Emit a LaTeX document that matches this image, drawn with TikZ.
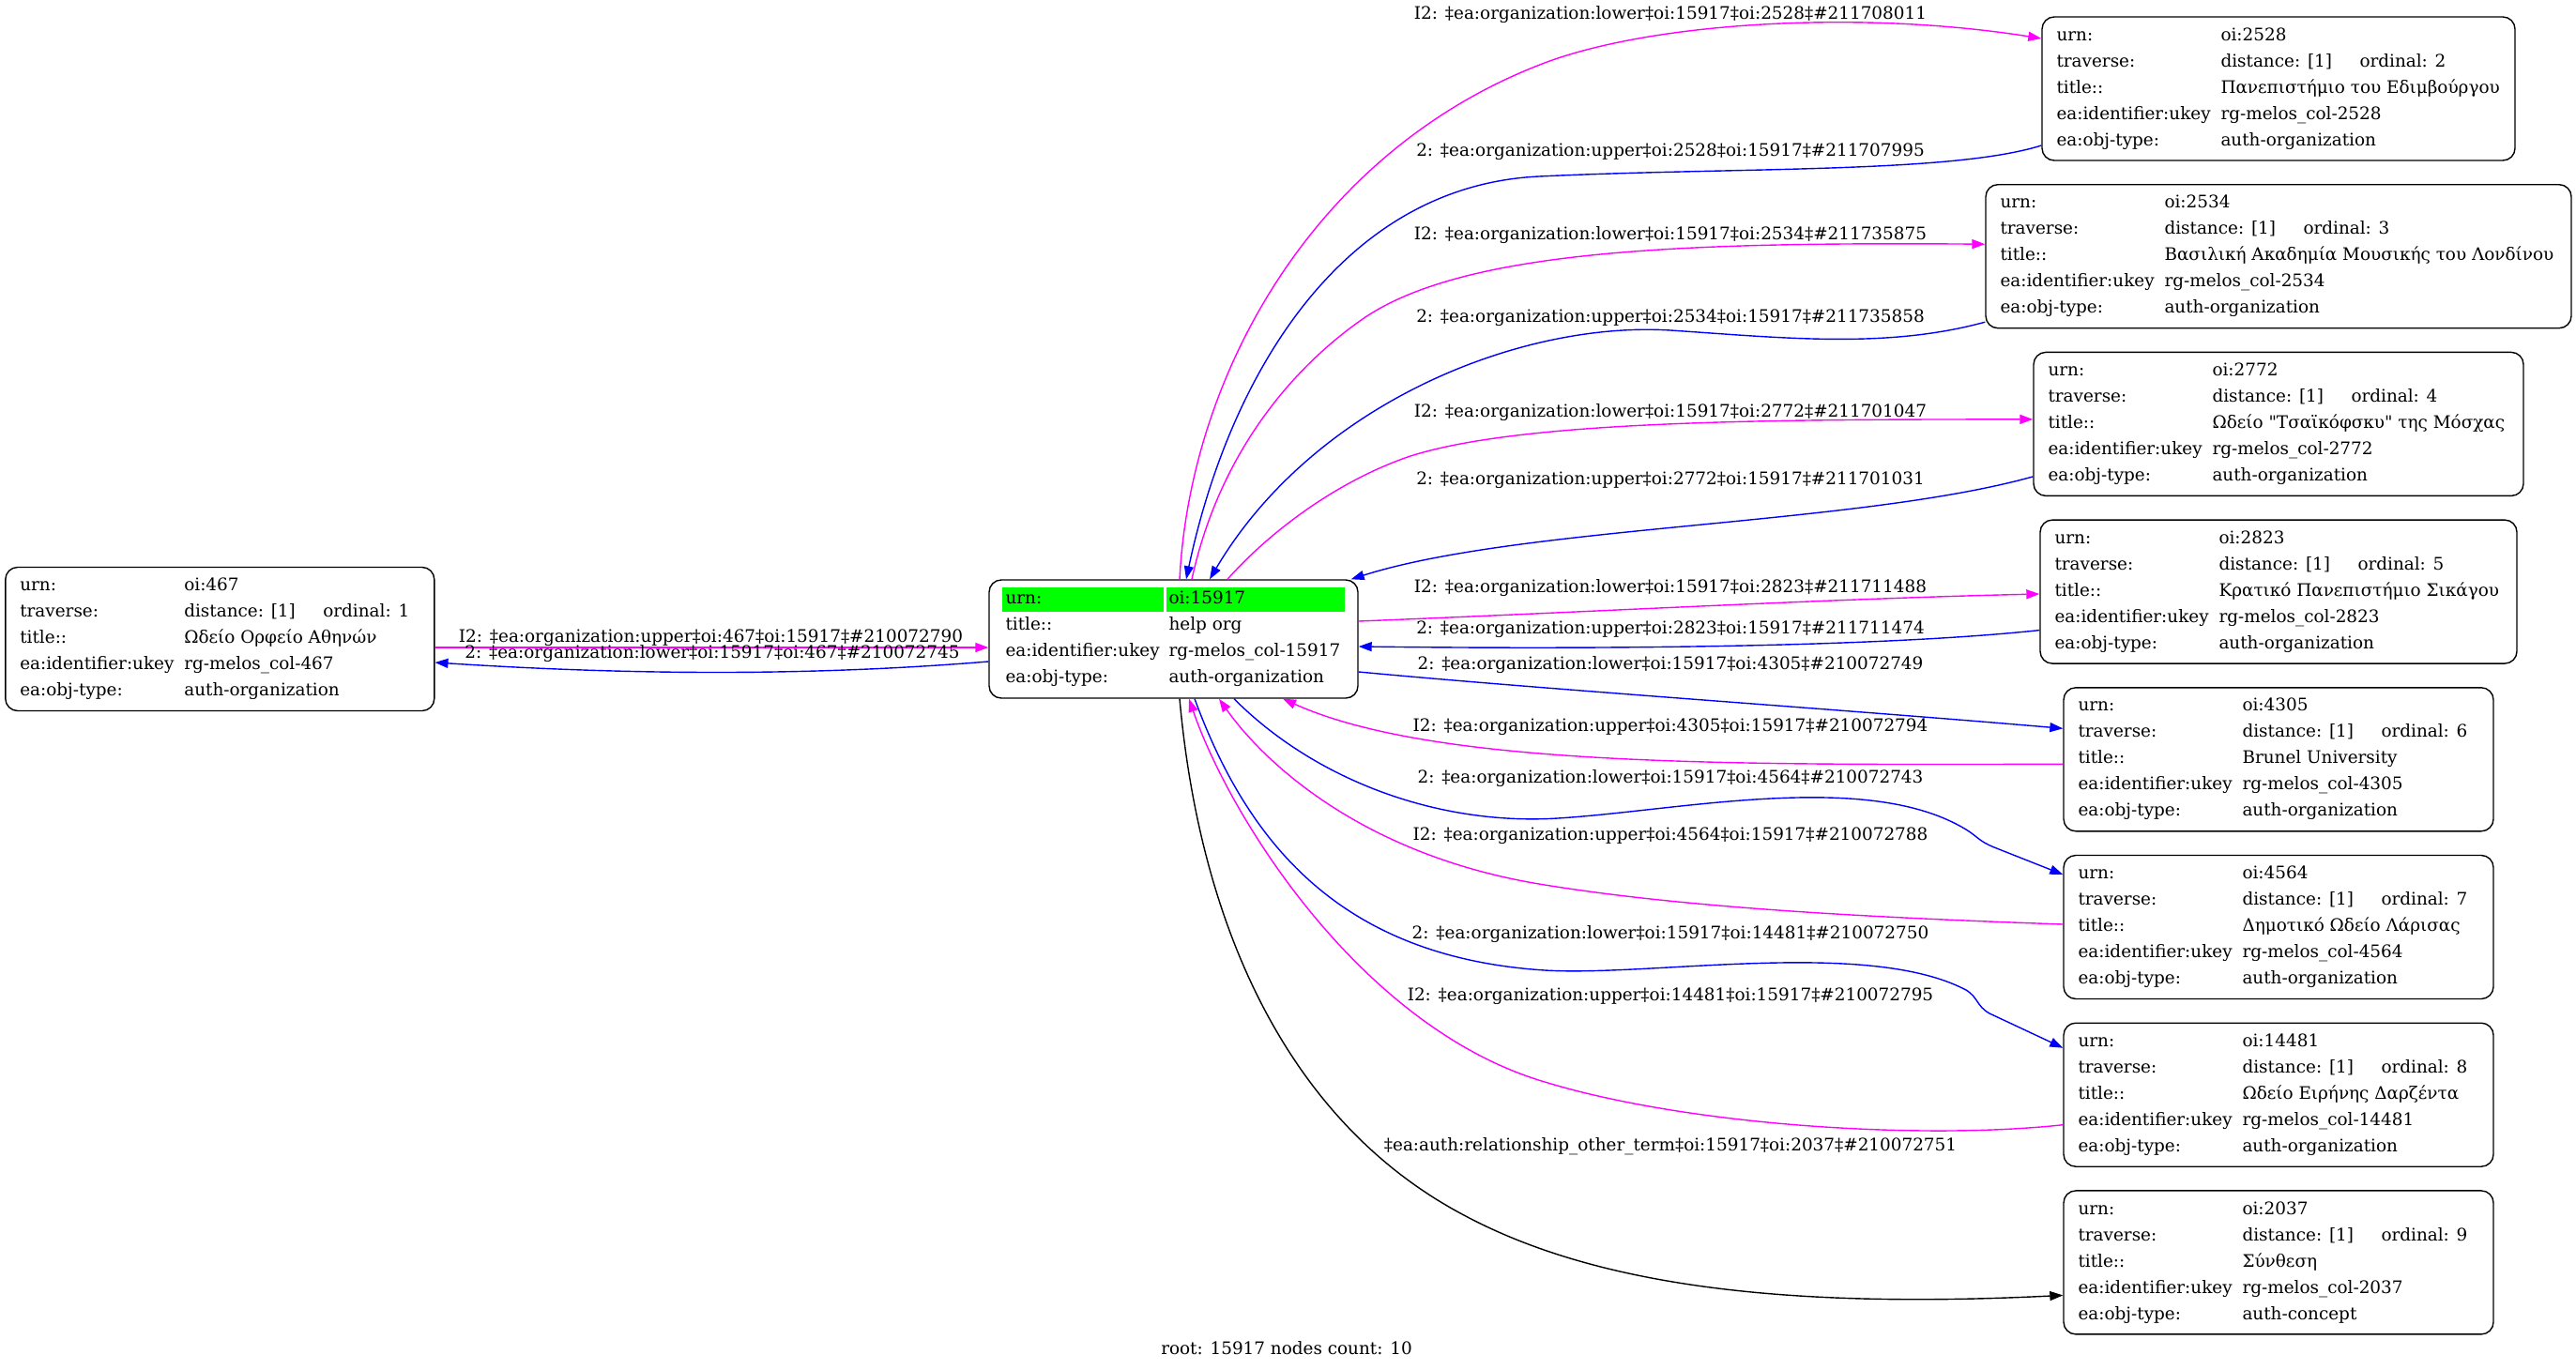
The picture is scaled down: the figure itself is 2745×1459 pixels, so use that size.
\documentclass[tikz,border=0pt]{standalone}
\usepackage{fontspec}
\setmainfont{DejaVu Serif}[Ligatures=TeXOff]
\usetikzlibrary{arrows.meta}
\definecolor{pk}{RGB}{255,0,255}
\definecolor{bl}{RGB}{0,0,255}
\definecolor{gr}{RGB}{0,255,0}
\newcommand\objtable[5]{%
\begin{tabular}{@{}p{175pt}@{}l@{}}
urn: & #1\\
traverse: & \makebox[148pt][l]{distance: [1]}ordinal: #2\\
title:: & #3\\
ea:identifier:ukey & #4\\
ea:obj-type: & #5
\end{tabular}}
\tikzset{
  obj/.style={draw=black, line width=1.4pt, rounded corners=13pt, minimum height=153pt, inner sep=0pt},
  rows/.style={anchor=north west, inner sep=0pt, font=\fontsize{18.4}{28}\selectfont},
  elabel/.style={anchor=base, inner sep=0pt, font=\fontsize{18.4}{23}\selectfont},
  edge/.style={line width=1.4pt, -{Triangle[length=14pt,width=10pt]}},
  pkedge/.style={edge, draw=pk},
  bledge/.style={edge, draw=bl},
  kedge/.style={edge, draw=black},
}
\begin{document}
\begin{tikzpicture}[x=1pt,y=-1pt]
\useasboundingbox (0,0) rectangle (2745,1459);
% boxes
\node[obj, minimum width=457pt] (L) at (234.3,681) {};
\node[rows] (TL) at ([xshift=16pt,yshift=-6pt]L.north west) {\objtable{oi:467}{1}{Ωδείο Ορφείο Αθηνών}{rg-melos\_col-467}{auth-organization}};

\node[obj, minimum width=393pt, minimum height=126pt] (C) at (1250.5,681) {};
\fill[gr] (1068,626) rectangle (1240,652);
\fill[gr] (1243,626) rectangle (1433,652);
\node[rows] (TC) at ([xshift=18pt,yshift=-6.4pt]C.north west) {%
\begin{tabular}{@{}p{174pt}@{}l@{}}
urn: & oi:15917\\
title:: & help org\\
ea:identifier:ukey & rg-melos\_col-15917\\
ea:obj-type: & auth-organization
\end{tabular}};

\node[obj, minimum width=504pt] (B2528) at (2428,94.5) {};
\node[rows] (T2528) at ([xshift=16pt,yshift=-6pt]B2528.north west) {\objtable{oi:2528}{2}{Πανεπιστήμιο του Εδιμβούργου}{rg-melos\_col-2528}{auth-organization}};
\node[obj, minimum width=624pt] (B2534) at (2428,273.2) {};
\node[rows] (T2534) at ([xshift=16pt,yshift=-6pt]B2534.north west) {\objtable{oi:2534}{3}{Βασιλική Ακαδημία Μουσικής του Λονδίνου}{rg-melos\_col-2534}{auth-organization}};
\node[obj, minimum width=522pt] (B2772) at (2428,451.9) {};
\node[rows] (T2772) at ([xshift=16pt,yshift=-6pt]B2772.north west) {\objtable{oi:2772}{4}{Ωδείο "Τσαϊκόφσκυ" της Μόσχας}{rg-melos\_col-2772}{auth-organization}};
\node[obj, minimum width=508pt] (B2823) at (2428,630.6) {};
\node[rows] (T2823) at ([xshift=16pt,yshift=-6pt]B2823.north west) {\objtable{oi:2823}{5}{Κρατικό Πανεπιστήμιο Σικάγου}{rg-melos\_col-2823}{auth-organization}};
\node[obj, minimum width=458pt] (B4305) at (2428,809.3) {};
\node[rows] (T4305) at ([xshift=16pt,yshift=-6pt]B4305.north west) {\objtable{oi:4305}{6}{Brunel University}{rg-melos\_col-4305}{auth-organization}};
\node[obj, minimum width=458pt] (B4564) at (2428,988) {};
\node[rows] (T4564) at ([xshift=16pt,yshift=-6pt]B4564.north west) {\objtable{oi:4564}{7}{Δημοτικό Ωδείο Λάρισας}{rg-melos\_col-4564}{auth-organization}};
\node[obj, minimum width=458pt] (B14481) at (2428,1166.7) {};
\node[rows] (T14481) at ([xshift=16pt,yshift=-6pt]B14481.north west) {\objtable{oi:14481}{8}{Ωδείο Ειρήνης Δαρζέντα}{rg-melos\_col-14481}{auth-organization}};
\node[obj, minimum width=458pt] (B2037) at (2428,1345.4) {};
\node[rows] (T2037) at ([xshift=16pt,yshift=-6pt]B2037.north west) {\objtable{oi:2037}{9}{Σύνθεση}{rg-melos\_col-2037}{auth-concept}};

% edges left
\draw[pkedge] ([yshift=-9pt]L.east) -- ([yshift=-9pt]C.west);
\draw[bledge] ([yshift=-24pt]C.west) .. controls (870,720) and (682,720) .. ([yshift=-25pt]L.east);
% 2528
\draw[pkedge] ([xshift=6.5pt]C.north) .. controls (1268,400) and (1400,160) .. (1646,67) .. controls (1760,24) and (1980,10) .. ([yshift=53.5pt]B2528.west);
\draw[bledge] ([yshift=-60.5pt]B2528.west) .. controls (2080,185) and (1850,178) .. (1640,188) .. controls (1430,198) and (1310,400) .. ([xshift=13.5pt]C.north);
% 2534
\draw[pkedge] ([xshift=19.5pt]C.north) .. controls (1300,480) and (1380,390) .. (1452,340) .. controls (1560,265) and (1800,258) .. ([yshift=13pt]B2534.west);
\draw[bledge] ([yshift=-70pt]B2534.west) .. controls (2010,372) and (1900,360) .. (1780,352) .. controls (1620,342) and (1400,430) .. ([xshift=38.5pt]C.north);
% 2772
\draw[pkedge] ([xshift=57.5pt]C.north) .. controls (1350,570) and (1420,515) .. (1500,487) .. controls (1620,447) and (1900,447) .. ([yshift=5pt]B2772.west);
\draw[bledge] ([yshift=-56pt]B2772.west) .. controls (1980,560) and (1620,560) .. ([xshift=-8pt]C.north east);
% 2823
\draw[pkedge] ([yshift=19pt]C.east) .. controls (1700,652) and (1950,638) .. ([yshift=-2.4pt]B2823.west);
\draw[bledge] ([yshift=-41pt]B2823.west) .. controls (2000,690) and (1700,692) .. ([yshift=-8pt]C.east);
% 4305
\draw[bledge] ([yshift=-35pt]C.east) .. controls (1650,735) and (1950,755) .. ([yshift=33pt]B4305.west);
\draw[pkedge] ([yshift=-5pt]B4305.west) .. controls (1850,815) and (1530,818) .. ([xshift=116.5pt]C.south);
% 4564
\draw[bledge] ([xshift=64.5pt]C.south) .. controls (1400,830) and (1530,880) .. (1660,872) .. controls (1790,864) and (1990,820) .. (2095,884) .. controls (2108,892) and (2108,896) .. (2125,903) -- ([yshift=56pt]B4564.west);
\draw[pkedge] ([yshift=3pt]B4564.west) .. controls (2000,978) and (1800,968) .. (1646,943) .. controls (1450,912) and (1345,810) .. ([xshift=48.5pt]C.south);
% 14481
\draw[bledge] ([xshift=22.5pt]C.south) .. controls (1330,900) and (1430,1020) .. (1646,1034) .. controls (1760,1041) and (1990,1000) .. (2095,1055) .. controls (2108,1063) and (2106,1072) .. (2120,1080) -- ([yshift=50pt]B14481.west);
\draw[pkedge] ([yshift=-32pt]B14481.west) .. controls (2050,1215) and (1800,1200) .. (1646,1153) .. controls (1450,1095) and (1310,870) .. ([xshift=16.5pt]C.south);
% 2037
\draw[kedge] ([xshift=6.5pt]C.south) .. controls (1280,1000) and (1380,1200) .. (1560,1295) .. controls (1700,1370) and (1900,1395) .. ([yshift=-35pt]B2037.west);

% edge labels
\node[elabel] (l1) at (757.5,684) {I2: ‡ea:organization:upper‡oi:467‡oi:15917‡\#210072790};
\node[elabel] (l2) at (759,701) {2: ‡ea:organization:lower‡oi:15917‡oi:467‡\#210072745};
\node[elabel] (t1) at (1780,20.5) {I2: ‡ea:organization:lower‡oi:15917‡oi:2528‡\#211708011};
\node[elabel] (t2) at (1780,166) {2: ‡ea:organization:upper‡oi:2528‡oi:15917‡\#211707995};
\node[elabel] (t3) at (1780,255) {I2: ‡ea:organization:lower‡oi:15917‡oi:2534‡\#211735875};
\node[elabel] (t4) at (1780,343) {2: ‡ea:organization:upper‡oi:2534‡oi:15917‡\#211735858};
\node[elabel] (t5) at (1780,444) {I2: ‡ea:organization:lower‡oi:15917‡oi:2772‡\#211701047};
\node[elabel] (t6) at (1780,516) {2: ‡ea:organization:upper‡oi:2772‡oi:15917‡\#211701031};
\node[elabel] (t7) at (1780,631) {I2: ‡ea:organization:lower‡oi:15917‡oi:2823‡\#211711488};
\node[elabel] (t8) at (1780,675) {2: ‡ea:organization:upper‡oi:2823‡oi:15917‡\#211711474};
\node[elabel] (t9) at (1780,713) {2: ‡ea:organization:lower‡oi:15917‡oi:4305‡\#210072749};
\node[elabel] (t10) at (1780,779) {I2: ‡ea:organization:upper‡oi:4305‡oi:15917‡\#210072794};
\node[elabel] (t11) at (1780,834) {2: ‡ea:organization:lower‡oi:15917‡oi:4564‡\#210072743};
\node[elabel] (t12) at (1780,895) {I2: ‡ea:organization:upper‡oi:4564‡oi:15917‡\#210072788};
\node[elabel] (t13) at (1780,1000) {2: ‡ea:organization:lower‡oi:15917‡oi:14481‡\#210072750};
\node[elabel] (t14) at (1780,1066) {I2: ‡ea:organization:upper‡oi:14481‡oi:15917‡\#210072795};
\node[elabel] (t15) at (1780,1226.5) {‡ea:auth:relationship\_other\_term‡oi:15917‡oi:2037‡\#210072751};
% caption
\node[elabel] (cap) at (1371,1443) {root: 15917 nodes count: 10};
\end{tikzpicture}
\end{document}
